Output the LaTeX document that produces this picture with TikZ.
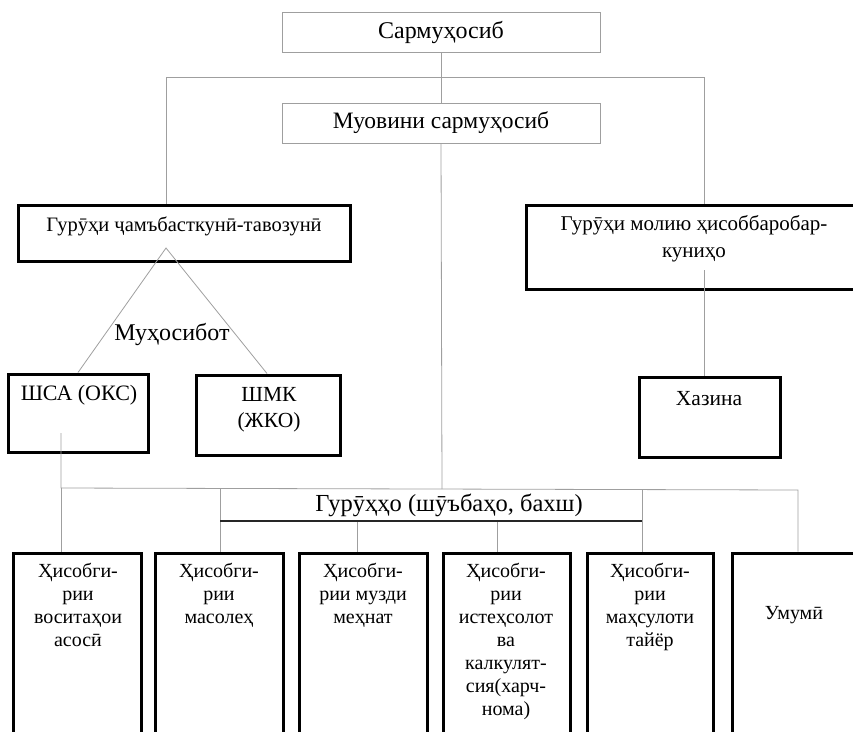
\documentclass[tikz,border=0pt]{standalone}
\usepackage{fontspec}
\setmainfont{Liberation Serif}
\usetikzlibrary{fit}
\begin{document}
\begin{tikzpicture}[x=1pt,y=-1pt,
  frame/.style={draw=gray!75, line width=0.8pt, inner sep=0pt},
  heavy/.style={draw=black, line width=3pt, inner sep=0pt},
  link/.style={draw=gray!75, line width=0.8pt},
  bar/.style={draw=black!85, line width=2pt},
  big/.style={inner sep=0pt, font=\fontsize{24}{28}\selectfont},
  mid/.style={inner sep=0pt, align=center, font=\fontsize{21.5}{26}\selectfont},
  small/.style={inner sep=0pt, align=center, anchor=north, font=\fontsize{20}{23}\selectfont}
]
\useasboundingbox (0,0) rectangle (853,731);
\clip (0,0) rectangle (853,731);

% chief accountant and deputy
\node[frame, fit={(282,12) (600,52)}] (chief) {};
\node[big] (chiefT) at (441,32) {Сармуҳосиб};
\node[frame, fit={(282,103) (600,143)}] (deputy) {};
\node[big, font=\fontsize{23.5}{28}\selectfont] (deputyT) at (441,123) {Муовини сармуҳосиб};

% groups
\node[heavy, fit={(18,205) (350,261)}] (summary) {};
\node[mid, font=\fontsize{20.5}{24}\selectfont] (summaryT) at (184,226) {Гурӯҳи ҷамъбасткунӣ-тавозунӣ};
\node[heavy, fit={(526,205) (870,289)}] (finance) {};
\node[mid, font=\fontsize{21}{27}\selectfont] (financeT) at (694,239) {Гурӯҳи молию ҳисоббаробар-\\куниҳо};

% accounting and its sections
\node[big] (acc) at (172,334) {Муҳосибот};
\node[heavy, fit={(8,374) (148,452)}] (osc) {};
\node[mid, font=\fontsize{22}{26}\selectfont] (oscT) at (79,395) {ШСА (ОКС)};
\node[heavy, fit={(196,375) (340,455)}] (zhko) {};
\node[mid] (zhkoT) at (269,410) {ШМК\\(ЖКО)};
\node[heavy, fit={(639,377) (780,457)}] (treasury) {};
\node[mid] (treasuryT) at (709,399) {Хазина};

% sections row
\node[big, font=\fontsize{24.5}{28}\selectfont] (sections) at (449,505) {Гурӯҳҳо (шӯъбаҳо, бахш)};
\node[heavy, fit={(13,553) (141,760)}] (b1) {};
\node[heavy, fit={(155,553) (283,760)}] (b2) {};
\node[heavy, fit={(299,553) (427,760)}] (b3) {};
\node[heavy, fit={(443,553) (570,760)}] (b4) {};
\node[heavy, fit={(587,553) (713,760)}] (b5) {};
\node[heavy, fit={(732,553) (858,760)}] (b6) {};
\node[small] (b1T) at (78,563) {Ҳисобги-\\рии\\воситаҳои\\асосӣ};
\node[small] (b2T) at (219,563) {Ҳисобги-\\рии\\масолеҳ};
\node[small] (b3T) at (363,563) {Ҳисобги-\\рии музди\\меҳнат};
\node[small] (b4T) at (506,563) {Ҳисобги-\\рии\\истеҳсолот\\ва\\калкулят-\\сия(харч-\\нома)};
\node[small] (b5T) at (650,563) {Ҳисобги-\\рии\\маҳсулоти\\тайёр};
\node[small] (b6T) at (794,606) {Умумӣ};

% junction points
\coordinate (topL) at (166,77);
\coordinate (topR) at (704,77);
\coordinate (trunk) at (442,489);
\coordinate (apex) at (166,248);
\coordinate (footA) at (78,374);
\coordinate (footB) at (267,375);
\coordinate (finDrop) at (704,270);
\coordinate (oscDrop) at (61,433);
\coordinate (busL) at (61,488);
\coordinate (busR) at (798,490);
\coordinate (barL) at (220,521);
\coordinate (barR) at (642,521);
\coordinate (dropB3) at (357,521);
\coordinate (dropB4) at (497,521);

% connectors
\draw[link] (chief.south) -- (deputy.north);
\draw[link] (topL |- summary.north) -- (topL) -- (topR) -- (topR |- finance.north);
\draw[link] (deputy.south) -- (trunk);
\draw[link] (footA |- osc.north) -- (apex) -- (footB |- zhko.north);
\draw[link] (finDrop) -- (finDrop |- treasury.north);
\draw[link] (oscDrop) -- (busL) -- (busR) -- (busR |- b6.north);
\draw[link] (busL) -- (busL |- b1.north);
\draw[link] (barL |- busL) -- (barL |- b2.north);
\draw[link] (barR |- busR) -- (barR |- b5.north);
\draw[link] (dropB3) -- (dropB3 |- b3.north);
\draw[link] (dropB4) -- (dropB4 |- b4.north);
\draw[bar] (barL) -- (barR);
\end{tikzpicture}
\end{document}
